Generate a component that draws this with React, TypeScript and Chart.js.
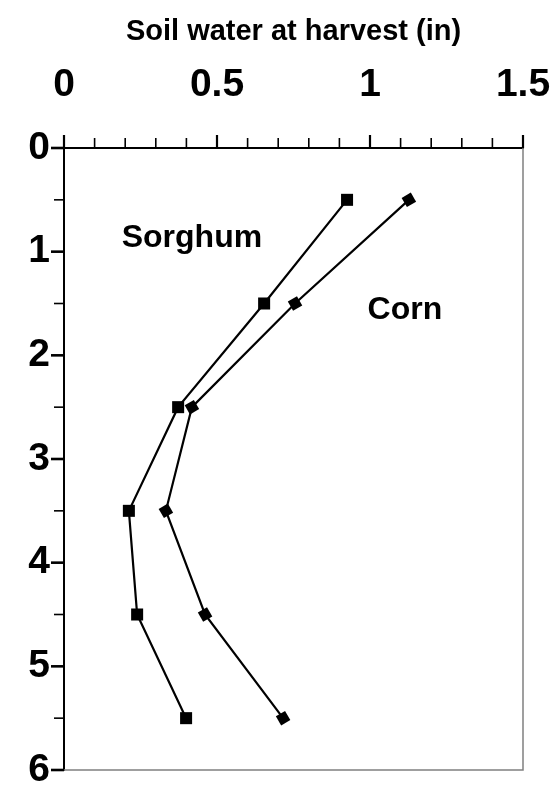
import React, { useEffect, useRef } from "react";
import { Chart, registerables } from "chart.js";

Chart.register(...registerables);

// Depth (ft) of each layer midpoint
const DEPTHS = [0.5, 1.5, 2.5, 3.5, 4.5, 5.5];
// Soil water at harvest (in)
const SORGHUM = [0.925, 0.654, 0.373, 0.212, 0.239, 0.399];
const CORN = [1.127, 0.755, 0.418, 0.333, 0.461, 0.716];

const X_MINOR_TICKS = [0, 0.1, 0.2, 0.3, 0.4, 0.5, 0.6, 0.7, 0.8, 0.9, 1.0, 1.1, 1.2, 1.3, 1.4, 1.5];
const X_MAJOR_TICKS = [0, 0.5, 1, 1.5];
const Y_TICKS = [0, 0.5, 1, 1.5, 2, 2.5, 3, 3.5, 4, 4.5, 5, 5.5, 6];

const SERIES_LABELS = ["Sorghum", "Corn"];
// label anchor points in data units (x = soil water, y = depth)
const LABEL_X = [0.418, 1.114];
const LABEL_Y = [0.87, 1.56];

const FONT = "'Liberation Sans', Arial, Helvetica, sans-serif";

const decorPlugin = {
  id: "decor",
  afterDraw(chart: any) {
    const { ctx, chartArea, scales } = chart;
    const xs = scales.x;
    const ys = scales.y;
    ctx.save();
    // gray right and bottom frame
    ctx.strokeStyle = "#808080";
    ctx.lineWidth = 1.5;
    ctx.beginPath();
    ctx.moveTo(chartArea.right, chartArea.top);
    ctx.lineTo(chartArea.right, chartArea.bottom);
    ctx.lineTo(chartArea.left, chartArea.bottom);
    ctx.stroke();
    // x ticks (upward)
    ctx.strokeStyle = "#000";
    X_MINOR_TICKS.forEach((v) => {
      const px = xs.getPixelForValue(v);
      const major = X_MAJOR_TICKS.some((m) => Math.abs(m - v) < 1e-6);
      ctx.lineWidth = major ? 2.2 : 1.6;
      ctx.beginPath();
      ctx.moveTo(px, chartArea.top);
      ctx.lineTo(px, chartArea.top - (major ? 13 : 10));
      ctx.stroke();
    });
    // y ticks (leftward)
    Y_TICKS.forEach((v) => {
      const py = ys.getPixelForValue(v);
      const major = Number.isInteger(v);
      ctx.lineWidth = major ? 2.6 : 1.6;
      ctx.beginPath();
      ctx.moveTo(chartArea.left, py);
      ctx.lineTo(chartArea.left - (major ? 13 : 10), py);
      ctx.stroke();
    });
    // series labels
    ctx.fillStyle = "#000";
    ctx.font = `bold 32px ${FONT}`;
    ctx.textAlign = "center";
    ctx.textBaseline = "middle";
    SERIES_LABELS.forEach((t, i) => {
      ctx.fillText(t, xs.getPixelForValue(LABEL_X[i]), ys.getPixelForValue(LABEL_Y[i]));
    });
    ctx.restore();
  },
};

export default function App() {
  const ref = useRef<HTMLCanvasElement | null>(null);
  useEffect(() => {
    if (!ref.current) return;
    const chart = new Chart(ref.current, {
      type: "line",
      data: {
        datasets: [
          {
            label: "Sorghum",
            data: DEPTHS.map((d, i) => ({ x: SORGHUM[i], y: d })),
            borderColor: "#000",
            borderWidth: 2.2,
            backgroundColor: "#000",
            pointStyle: "rect",
            pointRadius: 8.5,
            pointBorderWidth: 0,
            pointBackgroundColor: "#000",
            showLine: true,
            tension: 0,
          },
          {
            label: "Corn",
            data: DEPTHS.map((d, i) => ({ x: CORN[i], y: d })),
            borderColor: "#000",
            borderWidth: 2.2,
            backgroundColor: "#000",
            pointStyle: "rectRot",
            pointRadius: 7.5,
            pointRotation: 15,
            pointBorderWidth: 0,
            pointBackgroundColor: "#000",
            showLine: true,
            tension: 0,
          },
        ],
      },
      options: {
        responsive: false,
        animation: false,
        layout: { padding: { left: 0, right: 35, top: 0, bottom: 23 } },
        plugins: {
          legend: { display: false },
          tooltip: { enabled: false },
        },
        scales: {
          x: {
            type: "linear",
            position: "top",
            min: 0,
            max: 1.5,
            afterFit: (s: any) => {
              s.height = 148;
              s.paddingLeft = 0;
              s.paddingRight = 0;
            },
            grid: { display: false, drawTicks: false, tickLength: 0 },
            border: { display: true, color: "#000", width: 2 },
            ticks: {
              stepSize: 0.5,
              padding: 39,
              color: "#000",
              callback: (v: any) => String(v),
              font: { family: FONT, size: 39, weight: "bold" },
            },
            title: {
              display: true,
              text: "Soil water at harvest (in)",
              color: "#000",
              padding: { top: 15, bottom: 0 },
              font: { family: FONT, size: 29, weight: "bold" },
            },
          },
          y: {
            type: "linear",
            reverse: true,
            min: 0,
            max: 6,
            afterFit: (s: any) => {
              s.width = 64;
              s.paddingTop = 0;
              s.paddingBottom = 0;
            },
            grid: { display: false, drawTicks: false, tickLength: 0 },
            border: { display: true, color: "#000", width: 2 },
            ticks: {
              stepSize: 1,
              padding: 14,
              color: "#000",
              callback: (v: any) => String(v),
              font: { family: FONT, size: 39, weight: "bold" },
            },
          },
        },
      },
      plugins: [decorPlugin],
    });
    return () => chart.destroy();
  }, []);
  return (
    <div style={{ position: "fixed", left: 0, top: 0, width: 558, height: 793, background: "#fff" }}>
      <canvas ref={ref} width={558} height={793} style={{ display: "block" }} />
    </div>
  );
}
